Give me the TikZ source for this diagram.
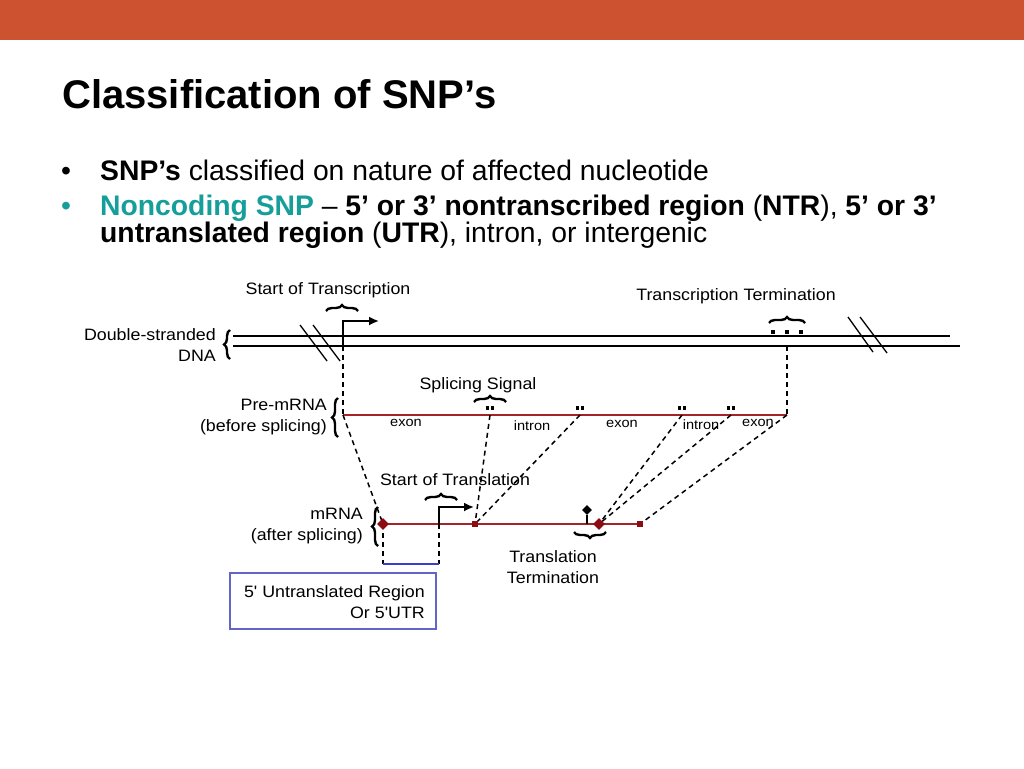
\documentclass[tikz,border=0pt]{standalone}
\usepackage{fontspec}
\setmainfont{Liberation Sans}
\newfontfamily\diagfont[FakeStretch=1.08,Ligatures=TeXOff]{Liberation Sans}
\usetikzlibrary{decorations.pathreplacing,shapes.geometric,arrows.meta}

\definecolor{barorange}{RGB}{205,82,48}
\definecolor{snpteal}{RGB}{22,158,154}
\definecolor{rnared}{RGB}{165,35,40}
\definecolor{dotred}{RGB}{140,12,18}
\definecolor{utrblue}{RGB}{60,60,205}
\definecolor{boxblue}{RGB}{100,100,200}

\tikzset{
  lbl/.style={font=\diagfont\fontsize{16.5}{21}\selectfont, inner sep=0pt},
  small/.style={font=\diagfont\fontsize{13.5}{15}\selectfont, inner sep=0pt},
  txt/.style={font=\fontsize{28.3}{32}\selectfont, inner sep=0pt, anchor=base west},
  guide/.style={line width=1.5pt, dash pattern=on 5pt off 4pt},
  strand/.style={line width=2pt},
  rna/.style={rnared, line width=1.8pt},
  curly/.style={decorate, decoration={brace, amplitude=6pt}, line width=2.4pt},
  tip/.style={-{Latex[length=10pt,width=9pt]}, line width=1.8pt},
  bigdot/.style={diamond, fill=dotred, inner sep=0pt, minimum size=12pt},
  smalldot/.style={rectangle, fill=dotred, inner sep=0pt, minimum size=6pt},
  pt/.style={rectangle, fill=black, inner sep=0pt, minimum size=3.4pt},
}

\begin{document}
\begin{tikzpicture}[x=1pt, y=-1pt]
      \useasboundingbox (0,0) rectangle (1024,768);

      % Barra superiore e titolo
      \fill[barorange] (0,0) rectangle (1024,40);
      \node[anchor=base west, inner sep=0pt, font=\bfseries\fontsize{40}{46}\selectfont] (title) at (62,108) {Classification of SNP’s};

      % Punti elenco
      \node[txt] (b1dot) at (61,180) {•};
      \node[txt] (b1) at (100,180) {\textbf{SNP’s} classified on nature of affected nucleotide};
      \node[txt, text=snpteal] (b2dot) at (61,215) {•};
      \node[txt] (b2) at (100,215) {\textcolor{snpteal}{\textbf{Noncoding SNP}} – \textbf{5’ or 3’ nontranscribed region} (\textbf{NTR}), \textbf{5’ or 3’}};
      \node[txt] (b3) at (100,242) {\textbf{untranslated region} (\textbf{UTR}), intron, or intergenic};

      % DNA a doppio filamento
      \coordinate (dnaA) at (233,336); \coordinate (dnaB) at (950,336);
      \coordinate (dnaC) at (233,346); \coordinate (dnaD) at (960,346);
      \draw[strand] (dnaA) -- (dnaB);
      \draw[strand] (dnaC) -- (dnaD);
      \draw[line width=1.3pt] (300,325) -- (327,361) (313,325) -- (340,361);
      \draw[line width=1.3pt] (848,317) -- (873,352) (860,317) -- (887,353);
      \node[lbl, align=right, anchor=east] (dnalbl) at (216,345) {Double-stranded\\DNA};
      \draw[curly] (230,359) -- (230,330);

      % Inizio e fine della trascrizione
      \coordinate (tss) at (343,346);
      \coordinate (tssarr) at (379,321);
      \draw[tip] (tss) |- (tssarr);
      \draw[curly] (326,311) -- (358,311);
      \node[lbl] (tsslbl) at (328,290) {Start of Transcription};
      \coordinate (tte) at (787,346);
      \foreach \d in {773,787,801} \node[pt] (tt\d) at (\d,332) {};
      \draw[curly] (769,323) -- (805,323);
      \node[lbl] (ttelbl) at (736,296) {Transcription Termination};

      % Pre-mRNA
      \coordinate (preL) at (343,415); \coordinate (preR) at (787,415);
      \draw[rna] (preL) -- (preR);
      \draw[guide] (tss) -- (preL);
      \draw[guide] (tte) -- (preR);
      \node[lbl, align=right, anchor=east] (prelbl) at (327,417) {Pre-mRNA\\(before splicing)};
      \draw[curly] (338,437) -- (338,398);
      \coordinate (ss1) at (490,415); \coordinate (ss2) at (580,415);
      \coordinate (ss3) at (682,415); \coordinate (ss4) at (731,415);
      \foreach \s in {490,580,682,731} {
        \node[pt] (sa\s) at (\s-2.5,408) {};
        \node[pt] (sb\s) at (\s+2.5,408) {};
      }
      \draw[curly] (474,402) -- (506,402);
      \node[lbl] (sslbl) at (478,385) {Splicing Signal};
      \node[small] (ex1) at (406,423) {exon};
      \node[small] (in1) at (532,426) {intron};
      \node[small] (ex2) at (622,424) {exon};
      \node[small] (in2) at (701,425) {intron};
      \node[small] (ex3) at (758,423) {exon};

      % mRNA
      \coordinate (mL) at (383,524); \coordinate (mS) at (475,524);
      \coordinate (mT) at (599,524); \coordinate (mR) at (640,524);
      \draw[guide] (preL) -- (mL);
      \draw[guide] (ss1) -- (mS);
      \draw[guide] (ss2) -- (mS);
      \draw[guide] (ss3) -- (mT);
      \draw[guide] (ss4) -- (mT);
      \draw[guide] (preR) -- (mR);
      \draw[rna] (mL) -- (mR);
      \node[lbl, align=right, anchor=east] (mlbl) at (363,526) {mRNA\\(after splicing)};
      \draw[curly] (378,546) -- (378,507);

      % Inizio della traduzione e 5'UTR
      \coordinate (atg) at (439,524);
      \coordinate (atgarr) at (474,507);
      \draw[tip] (atg) |- (atgarr);
      \draw[curly] (425,500) -- (457,500);
      \node[lbl] (atglbl) at (455,480) {Start of Translation};
      \coordinate (utrL) at (383,564); \coordinate (utrR) at (439,564);
      \draw[guide] (mL) -- (utrL);
      \draw[guide] (atg) -- (utrR);
      \draw[utrblue, line width=2.6pt] (utrL) -- (utrR);
      \node[bigdot] (mLd) at (mL) {};
      \node[smalldot] (mSd) at (mS) {};
      \node[bigdot] (mTd) at (mT) {};
      \node[smalldot] (mRd) at (mR) {};

      % Fine della traduzione
      \coordinate (stop) at (587,524);
      \node[diamond, fill=black, inner sep=0pt, minimum size=10pt] (stopd) at (587,510) {};
      \draw[line width=1.6pt] (stop) -- (stopd);
      \draw[curly] (606,532) -- (574,532);
      \node[lbl, align=center] (stoplbl) at (553,567) {Translation\\Termination};

      % Riquadro della regione non tradotta
      \node[draw=boxblue, line width=1.6pt, minimum width=206pt, minimum height=56pt, inner sep=0pt] (utrbox) at (333,601) {};
      \node[lbl, align=right, anchor=east] (utrtxt) at (425,602) {5' Untranslated Region\\Or 5'UTR};
    \end{tikzpicture}
\end{document}
